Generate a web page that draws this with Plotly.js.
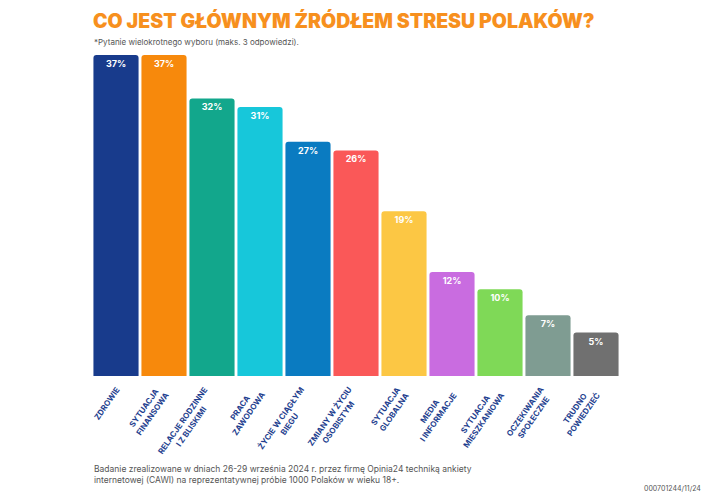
<!DOCTYPE html>
<html><head><meta charset="utf-8">
<script src="https://cdn.plot.ly/plotly-3.0.1.min.js"></script>
<style>html,body{margin:0;padding:0;background:#fff}#chart{width:720px;height:500px}</style>
</head><body><div id="chart"></div>
<script>
const categories = ["ZDROWIE","SYTUACJA<br>FINANSOWA","RELACJE RODZINNE<br>I Z BLISKIMI","PRACA<br>ZAWODOWA","ŻYCIE W CIĄGŁYM<br>BIEGU","ZMIANY W ŻYCIU<br>OSOBISTYM","SYTUACJA<br>GLOBALNA","MEDIA<br>I INFORMACJE","SYTUACJA<br>MIESZKANIOWA","OCZEKIWANIA<br>SPOŁECZNE","TRUDNO<br>POWIEDZIEĆ"];
const values = [37,37,32,31,27,26,19,12,10,7,5];
const colors = ["#183b8c","#f7890c","#12a78c","#17c7da","#0a7bc1","#fa5858","#fcc744","#c96ce0","#7fd957","#7f9c92","#707070"];
const labelColor = "#1f3f8f";

const trace = {
  type: "bar",
  x: categories.map((c,i)=>i),
  y: values,
  marker: {color: colors, cornerradius: 3},
  text: values.map(v=>v+"%"),
  textposition: "inside",
  insidetextanchor: "end",
  textangle: 0,
  textfont: {family: "Inter, 'Open Sans', sans-serif", size: 9, color: "#ffffff", weight: 700},
  hoverinfo: "none"
};

const annotations = categories.map((c,i)=>({
  x: i, y: 0, xref: "x", yref: "y",
  text: "<b>"+c+"</b>", showarrow: false,
  textangle: -55, align: "center",
  xanchor: "right", yanchor: "top",
  xshift: 9, yshift: -6,
  font: {family: "Inter, 'Open Sans', sans-serif", size: 8, color: labelColor}
}));

annotations.push({
  xref: "paper", yref: "paper", x: -0.002, y: 1, yshift: 20, xanchor: "left", yanchor: "bottom",
  text: "CO JEST GŁÓWNYM ŹRÓDŁEM STRESU POLAKÓW?", showarrow: false,
  font: {family: "Inter, sans-serif", size: 19.5, color: "#f7901e", weight: 900}
});
annotations.push({
  xref: "paper", yref: "paper", x: 0, y: 1, yshift: 6, xanchor: "left", yanchor: "bottom",
  text: "*Pytanie wielokrotnego wyboru (maks. 3 odpowiedzi).", showarrow: false,
  font: {family: "Inter, sans-serif", size: 8, color: "#555555"}
});
annotations.push({
  xref: "paper", yref: "paper", x: 0, y: 0, yshift: -86, xanchor: "left", yanchor: "top", align: "left",
  text: "Badanie zrealizowane w dniach 26-29 września 2024 r. przez firmę Opinia24 techniką ankiety<br>internetowej (CAWI) na reprezentatywnej próbie 1000 Polaków w wieku 18+.", showarrow: false,
  font: {family: "Inter, sans-serif", size: 8.5, color: "#555555"}
});
annotations.push({
  xref: "paper", yref: "paper", x: 1, y: 0, xshift: 83, yshift: -106, xanchor: "right", yanchor: "top",
  text: "000701244/11/24", showarrow: false,
  font: {family: "Inter, sans-serif", size: 7, color: "#555555"}
});

const layout = {
  width: 720, height: 500,
  margin: {l: 92, r: 100, t: 55, b: 124, pad: 0},
  paper_bgcolor: "#ffffff", plot_bgcolor: "#ffffff",
  showlegend: false,
  bargap: 0.06,
  xaxis: {range: [-0.5, 10.5], showticklabels: false, showgrid: false, zeroline: false, showline: false, ticks: "", fixedrange: true},
  yaxis: {range: [0, 37], visible: false, showgrid: false, zeroline: false, fixedrange: true},
  annotations: annotations
};

Plotly.newPlot("chart", [trace], layout, {displayModeBar: false, staticPlot: true});
</script></body></html>
